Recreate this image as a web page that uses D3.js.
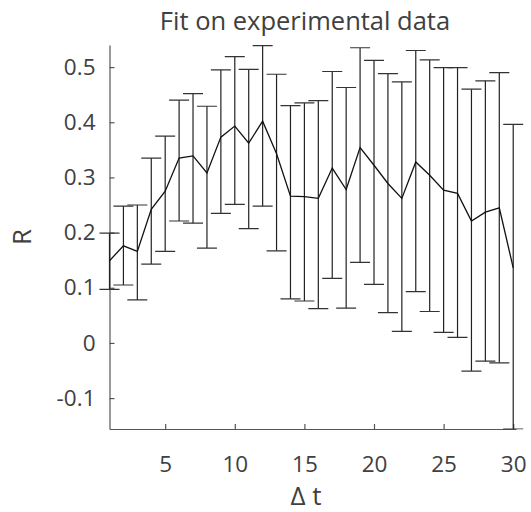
<!DOCTYPE html>
<html>
<head>
<meta charset="utf-8">
<script src="https://cdn.jsdelivr.net/npm/d3@7"></script>
<style>
  body { margin: 0; background: #fff; }
  text { font-family: "Open Sans", "Noto Sans", sans-serif; fill: #404040; }
</style>
</head>
<body>
<div id="chart"></div>
<script>
// lag values and fitted R (mean), with lower / upper error bar ends
const lags = [1, 2, 3, 4, 5, 6, 7, 8, 9, 10, 11, 12, 13, 14, 15,
  16, 17, 18, 19, 20, 21, 22, 23, 24, 25, 26, 27, 28, 29, 30];
const meanR = [0.149, 0.176, 0.166, 0.242, 0.275, 0.335, 0.339, 0.308, 0.373, 0.393,
  0.362, 0.402, 0.343, 0.266, 0.265, 0.262, 0.317, 0.278, 0.354, 0.322,
  0.289, 0.262, 0.328, 0.304, 0.277, 0.271, 0.221, 0.237, 0.245, 0.136];
const lowerR = [0.097, 0.105, 0.078, 0.143, 0.166, 0.221, 0.217, 0.172, 0.235, 0.251,
  0.207, 0.248, 0.167, 0.080, 0.076, 0.062, 0.117, 0.063, 0.146, 0.106,
  0.055, 0.021, 0.093, 0.057, 0.019, 0.010, -0.051, -0.033, -0.036, -0.156];
const upperR = [0.199, 0.248, 0.250, 0.335, 0.375, 0.440, 0.452, 0.429, 0.495, 0.519,
  0.496, 0.539, 0.487, 0.430, 0.435, 0.439, 0.492, 0.463, 0.535, 0.512,
  0.488, 0.473, 0.530, 0.513, 0.499, 0.499, 0.460, 0.475, 0.490, 0.396];
const xTicks = [5, 10, 15, 20, 25, 30];
const yTicks = [-0.1, 0, 0.1, 0.2, 0.3, 0.4, 0.5];

const W = 531, H = 512;
const margin = { top: 45, right: 15, bottom: 83, left: 109.5 };
const innerW = W - margin.left - margin.right;
const innerH = H - margin.top - margin.bottom;

const rows = lags.map((t, i) => ({ t, r: meanR[i], lo: lowerR[i], hi: upperR[i] }));

const svg = d3.select("#chart").append("svg")
  .attr("width", W)
  .attr("height", H);

const g = svg.append("g")
  .attr("transform", `translate(${margin.left},${margin.top})`);

const x = d3.scaleLinear().domain([1, 30.2]).range([0, innerW]);
const y = d3.scaleLinear().domain([-0.156, 0.54]).range([innerH, 0]);

g.append("defs").append("clipPath").attr("id", "plotclip")
  .append("rect").attr("x", -20).attr("y", 0).attr("width", innerW + 40).attr("height", innerH + 0.5);

// axes (ticks point inward, MATLAB style)
const xAxis = g.append("g")
  .attr("transform", `translate(0,${innerH})`)
  .call(d3.axisBottom(x).tickValues(xTicks).tickSizeInner(-5).tickSizeOuter(0).tickPadding(27));
const yAxis = g.append("g")
  .call(d3.axisLeft(y).tickValues(yTicks).tickSizeInner(-5).tickSizeOuter(0).tickPadding(14)
    .tickFormat(d => d === 0 ? "0" : d3.format(".1f")(d).replace("\u2212", "-")));

[xAxis, yAxis].forEach(a => {
  a.selectAll("path, line").attr("stroke", "#555").attr("stroke-width", 1.2);
  a.selectAll("text").style("font-size", "22.5px").attr("fill", "#404040");
});

// error bars
const bars = g.append("g").attr("clip-path", "url(#plotclip)");
const capW = 10;
bars.selectAll(".eb").data(rows).join("line")
  .attr("class", "eb")
  .attr("x1", d => x(d.t)).attr("x2", d => x(d.t))
  .attr("y1", d => y(d.lo)).attr("y2", d => y(d.hi))
  .attr("stroke", "#222").attr("stroke-width", 1.2);
bars.selectAll(".cap-hi").data(rows).join("line")
  .attr("class", "cap-hi")
  .attr("x1", d => x(d.t) - capW).attr("x2", d => x(d.t) + capW)
  .attr("y1", d => y(d.hi)).attr("y2", d => y(d.hi))
  .attr("stroke", "#333").attr("stroke-width", 1.2);
bars.selectAll(".cap-lo").data(rows).join("line")
  .attr("class", "cap-lo")
  .attr("x1", d => x(d.t) - capW).attr("x2", d => x(d.t) + capW)
  .attr("y1", d => y(d.lo)).attr("y2", d => y(d.lo))
  .attr("stroke", "#333").attr("stroke-width", 1.2);

// mean line
g.append("path")
  .datum(rows)
  .attr("fill", "none")
  .attr("stroke", "#111")
  .attr("stroke-width", 1.3)
  .attr("d", d3.line().x(d => x(d.t)).y(d => y(d.r)));

// title and labels
svg.append("text")
  .attr("x", 305).attr("y", 30)
  .attr("text-anchor", "middle")
  .style("font-size", "25.5px")
  .text("Fit on experimental data");

svg.append("text")
  .attr("x", 306).attr("y", 505)
  .attr("text-anchor", "middle")
  .style("font-size", "26px")
  .text("\u0394 t");

svg.append("text")
  .attr("transform", `translate(31,237) rotate(-90)`)
  .attr("text-anchor", "middle")
  .style("font-size", "26px")
  .text("R");
</script>
</body>
</html>
